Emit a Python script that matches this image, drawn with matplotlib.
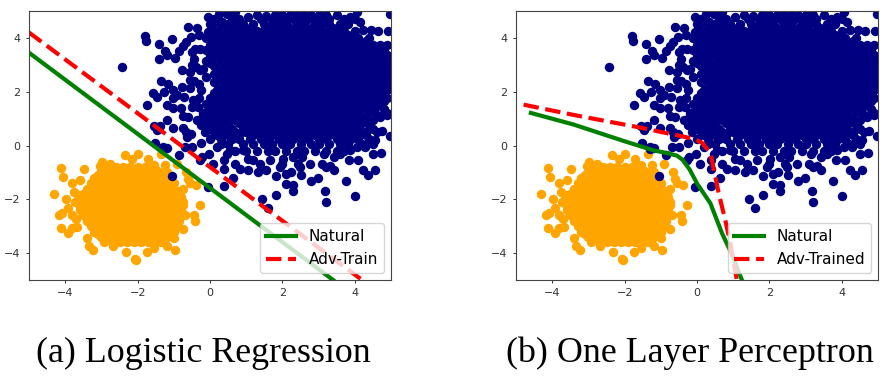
import matplotlib
matplotlib.use('Agg')
import matplotlib.pyplot as plt

# scatter points, sparse ones as x/y pairs
navy_edge = [
    (-2.42, 2.91), (-1.80, 4.06), (-1.77, 3.89), (-1.41, 3.78), (-1.05, 3.96), (-0.62, 4.41), (-0.37, 4.38),
    (-0.31, 4.12), (-0.53, 4.04), (-0.66, 3.85), (-0.74, 3.69), (-0.85, 3.51), (-1.24, 3.51), (-1.20, 3.38),
    (-1.42, 3.23), (-0.97, 3.27), (-0.76, 2.80), (-1.36, 2.40), (-1.15, 2.28), (-0.78, 2.19), (-1.58, 1.96),
    (-1.47, 1.81), (-1.27, 1.98), (-1.01, 2.06), (-1.75, 1.51), (-1.20, 1.51), (-1.03, 1.41), (-0.80, 1.38),
    (-1.01, 1.75), (-0.92, 1.88), (-0.72, 1.81), (-0.55, 2.12), (-0.46, 1.69), (-0.51, 1.42), (-0.32, 1.44),
    (-0.74, 1.10), (-0.60, 1.07), (-1.18, 0.93), (-1.38, 0.73), (-1.55, 0.73), (-1.47, 0.56), (-1.01, 0.64),
    (-0.74, 0.64), (-0.66, 0.52), (-0.53, 0.42), (-0.64, 0.31), (-0.24, 0.11), (-1.52, 0.09), (-1.29, -0.04),
    (-1.20, -0.10), (-0.55, 2.43), (-0.45, 2.38), (-0.55, 2.75), (-0.50, 3.00), (-0.45, 3.20), (-0.40, 2.90),
    (-0.28, 2.80), (-0.18, 2.86), (-0.41, 3.57), (-0.28, 3.60), (-0.50, 3.48), (-0.05, 4.78), (0.25, 4.88),
    (0.46, 4.90), (0.69, 4.95), (0.32, 4.59), (1.06, 4.78), (1.29, 4.84), (1.56, 4.80), (-0.05, 4.22),
    (0.05, 4.47), (3.86, 4.78), (4.05, 4.96), (4.14, 4.60), (4.97, 4.90), (4.23, 4.28), (4.46, 4.28),
    (-0.30, 2.30), (-0.25, 2.05), (-0.30, 1.75), (-0.20, 1.20), (-0.35, 0.95), (-0.25, 0.75), (-0.15, 0.50),
    (-1.06, -1.13), (-0.05, -1.56), (0.40, -1.50), (0.64, -1.19), (1.43, -2.00), (1.61, -2.34), (1.81, -1.85),
    (2.09, -1.44), (2.30, -1.48), (2.30, -1.70), (2.78, -1.33), (2.99, -1.19), (3.17, -1.69), (3.20, -2.09),
    (3.75, -1.33), (4.00, -1.87), (4.23, -0.92), (4.37, -1.08), (4.57, -0.92), (3.43, -0.92), (2.51, -1.08),
    (2.25, -1.00), (2.09, -1.07), (1.92, -0.80), (1.82, -1.13), (1.33, -1.00), (1.56, -0.92), (1.06, -0.90),
    (0.83, -0.86), (0.69, -0.68), (0.39, -0.86), (0.39, -0.55), (0.09, -0.68), (-0.28, -0.55), (-0.23, -0.41),
    (-0.02, -0.33), (-0.87, -0.37), (-1.29, -0.12), (-0.50, -0.06), (-0.69, -0.06), (2.77, -0.68), (2.48, -0.80),
    (2.43, -0.68), (3.10, -0.68), (3.20, -0.80), (3.31, -0.78), (3.83, -0.53), (4.08, -0.53), (4.72, -0.28),
    (4.50, -0.31), (4.28, -0.06), (2.02, -0.49), (1.98, -0.68), (1.66, -0.55), (1.38, -0.68), (1.20, -0.55),
    (1.06, -0.49), (0.55, -0.18), (0.46, -0.31), (0.18, -0.06), (0.92, -0.18), (2.30, -0.43), (2.53, -0.43),
    (3.14, -0.31), (3.42, -0.43), (3.60, -0.31), (3.88, -0.18), (4.06, -0.06), (4.97, 3.20), (4.90, 1.20),
    (4.97, 0.35), (4.75, 0.55), (4.55, 0.20), (4.30, 0.50),
]
navy_rows_y = [4.85, 4.7, 4.5, 4.25, 4.0, 3.75, 3.55, 3.35, 3.15, 2.95, 2.75, 2.55, 2.35, 2.15, 1.95, 1.75,
               1.55, 1.35, 1.15, 0.95, 0.75, 0.5, 0.25, 0.05, -0.2]
navy_rows_x = [
    [1.8, 2.0, 2.2, 2.4, 2.6, 2.8, 3.0, 3.2, 3.5],
    [0.1, 0.6, 0.8, 1.4, 1.7, 1.9, 2.1, 2.3, 2.5, 2.7, 2.9, 3.1, 3.3, 3.7, 4.0],
    [0.0, 0.3, 0.5, 0.7, 0.9, 1.2, 1.5, 1.7, 1.9, 2.1, 2.4, 2.6, 2.9, 3.1, 3.3, 3.6, 3.8],
    [0.1, 0.4, 0.6, 0.8, 1.0, 1.3, 1.5, 1.7, 1.9, 2.1, 2.3, 2.5, 2.7, 2.9, 3.1, 3.3, 3.5, 3.7, 4.0, 4.65, 4.92],
    [-0.1, 0.1, 0.3, 0.5, 0.7, 0.9, 1.1, 1.3, 1.5, 1.7, 1.9, 2.1, 2.3, 2.5, 2.7, 2.9, 3.1, 3.3, 3.5, 3.7, 3.9, 4.1, 4.4],
    [0.0, 0.2, 0.4, 0.8, 1.0, 1.2, 1.4, 1.6, 1.8, 2.0, 2.2, 2.4, 2.6, 2.8, 3.0, 3.2, 3.4, 3.6, 3.8, 4.0, 4.2, 4.5, 4.7, 4.88],
    [-0.1, 0.1, 0.3, 0.6, 0.9, 1.1, 1.3, 1.5, 1.7, 1.9, 2.1, 2.3, 2.5, 2.7, 2.9, 3.1, 3.3, 3.5, 3.7, 3.9, 4.1, 4.3, 4.6, 4.8],
    [0.0, 0.2, 0.5, 0.7, 1.0, 1.2, 1.4, 1.6, 1.8, 2.0, 2.2, 2.4, 2.6, 2.8, 3.0, 3.2, 3.4, 3.6, 3.8, 4.0, 4.2, 4.4, 4.7, 4.9],
    [-0.1, 0.3, 0.6, 0.8, 1.1, 1.3, 1.5, 1.7, 1.9, 2.1, 2.3, 2.5, 2.7, 2.9, 3.1, 3.3, 3.5, 3.7, 3.9, 4.1, 4.3, 4.5, 4.7, 4.95],
    [0.1, 0.4, 0.7, 0.9, 1.2, 1.4, 1.6, 1.8, 2.0, 2.2, 2.4, 2.6, 2.8, 3.0, 3.2, 3.4, 3.6, 3.8, 4.0, 4.2, 4.4, 4.6, 4.8],
    [0.2, 0.5, 0.7, 1.0, 1.2, 1.4, 1.6, 1.8, 2.0, 2.2, 2.4, 2.6, 2.8, 3.0, 3.2, 3.4, 3.6, 3.8, 4.0, 4.2, 4.4, 4.7, 4.95],
    [-0.1, 0.3, 0.6, 0.8, 1.1, 1.3, 1.5, 1.7, 1.9, 2.1, 2.3, 2.5, 2.7, 2.9, 3.1, 3.3, 3.5, 3.7, 3.9, 4.1, 4.3, 4.5, 4.8],
    [0.1, 0.4, 0.6, 0.9, 1.1, 1.4, 1.6, 1.8, 2.0, 2.2, 2.4, 2.6, 2.8, 3.0, 3.2, 3.4, 3.6, 3.8, 4.0, 4.2, 4.5, 4.7, 4.9],
    [0.3, 0.5, 0.7, 1.0, 1.2, 1.5, 1.7, 1.9, 2.1, 2.3, 2.5, 2.7, 2.9, 3.1, 3.3, 3.5, 3.7, 3.9, 4.1, 4.4, 4.6, 4.95],
    [0.1, 0.4, 0.6, 0.8, 1.1, 1.3, 1.6, 1.8, 2.0, 2.2, 2.4, 2.6, 2.8, 3.0, 3.2, 3.4, 3.6, 3.8, 4.0, 4.2, 4.5, 4.8],
    [0.0, 0.3, 0.5, 0.7, 0.9, 1.2, 1.4, 1.7, 1.9, 2.1, 2.3, 2.5, 2.7, 2.9, 3.1, 3.3, 3.5, 3.7, 3.9, 4.1, 4.3, 4.6, 4.9],
    [-0.1, 0.2, 0.4, 0.6, 0.8, 1.0, 1.3, 1.5, 1.7, 1.9, 2.1, 2.3, 2.5, 2.7, 2.9, 3.1, 3.3, 3.5, 3.7, 3.9, 4.2, 4.4, 4.7],
    [0.0, 0.3, 0.5, 0.7, 0.9, 1.1, 1.4, 1.6, 1.8, 2.0, 2.2, 2.4, 2.6, 2.8, 3.0, 3.2, 3.4, 3.6, 3.8, 4.0, 4.3, 4.5, 4.8],
    [-0.2, 0.1, 0.3, 0.6, 0.8, 1.0, 1.2, 1.5, 1.7, 1.9, 2.1, 2.3, 2.5, 2.7, 2.9, 3.1, 3.3, 3.5, 3.7, 3.9, 4.1, 4.6, 4.9],
    [-0.1, 0.2, 0.4, 0.7, 0.9, 1.1, 1.3, 1.6, 1.8, 2.0, 2.2, 2.4, 2.6, 2.8, 3.0, 3.2, 3.4, 3.6, 3.8, 4.0, 4.3, 4.5],
    [-0.2, 0.0, 0.3, 0.5, 0.9, 1.2, 1.4, 1.7, 1.9, 2.1, 2.3, 2.5, 2.7, 2.9, 3.1, 3.3, 3.5, 3.7, 3.9, 4.1, 4.4],
    [0.1, 0.4, 0.7, 1.0, 1.3, 1.5, 1.8, 2.0, 2.2, 2.4, 2.6, 2.8, 3.0, 3.2, 3.4, 3.6, 3.8, 4.0, 4.2, 4.6],
    [0.0, 0.3, 0.6, 0.8, 1.1, 1.4, 1.6, 1.9, 2.1, 2.3, 2.5, 2.7, 3.0, 3.2, 3.5, 3.7, 3.9, 4.1, 4.4],
    [0.3, 0.5, 0.9, 1.2, 1.5, 1.7, 2.0, 2.2, 2.5, 2.8, 3.0, 3.3, 3.6, 3.8, 4.2, 4.5],
    [0.7, 1.0, 1.3, 1.6, 1.8, 2.1, 2.4, 2.6, 2.9, 3.2, 3.5, 3.7],
]
# second layer where the navy cloud is solid
navy_fill_y = [4.38, 4.12, 3.88, 3.65, 3.45, 3.25, 3.05, 2.85, 2.65, 2.45, 2.25, 2.05, 1.85, 1.65, 1.45, 1.25, 1.05, 0.85, 0.62, 0.38]
navy_fill_x = [
    [0.3, 0.9, 1.1, 1.6, 1.8, 2.0, 2.2, 2.5, 2.8, 3.0, 3.4],
    [0.2, 0.5, 0.7, 0.9, 1.2, 1.4, 1.6, 1.8, 2.0, 2.2, 2.4, 2.6, 2.8, 3.0, 3.2, 3.4, 3.6, 3.8],
    [0.1, 0.3, 0.6, 0.8, 1.0, 1.2, 1.4, 1.6, 1.8, 2.0, 2.2, 2.4, 2.6, 2.8, 3.0, 3.2, 3.4, 3.6, 3.8, 4.1, 4.3],
    [0.1, 0.5, 0.7, 0.9, 1.1, 1.3, 1.5, 1.7, 1.9, 2.1, 2.3, 2.5, 2.7, 2.9, 3.1, 3.3, 3.5, 3.7, 3.9, 4.1, 4.4, 4.6],
    [0.0, 0.4, 0.6, 0.8, 1.0, 1.2, 1.4, 1.6, 1.8, 2.0, 2.2, 2.4, 2.6, 2.8, 3.0, 3.2, 3.4, 3.6, 3.8, 4.0, 4.2, 4.5, 4.8],
    [0.1, 0.3, 0.7, 0.9, 1.1, 1.3, 1.5, 1.7, 1.9, 2.1, 2.3, 2.5, 2.7, 2.9, 3.1, 3.3, 3.5, 3.7, 3.9, 4.1, 4.3, 4.6, 4.8],
    [0.0, 0.5, 0.8, 1.0, 1.2, 1.4, 1.6, 1.8, 2.0, 2.2, 2.4, 2.6, 2.8, 3.0, 3.2, 3.4, 3.6, 3.8, 4.0, 4.2, 4.4, 4.7],
    [0.3, 0.6, 0.8, 1.0, 1.3, 1.5, 1.7, 1.9, 2.1, 2.3, 2.5, 2.7, 2.9, 3.1, 3.3, 3.5, 3.7, 3.9, 4.1, 4.3, 4.5, 4.9],
    [0.1, 0.4, 0.6, 0.9, 1.1, 1.3, 1.5, 1.7, 1.9, 2.1, 2.3, 2.5, 2.7, 2.9, 3.1, 3.3, 3.5, 3.7, 3.9, 4.1, 4.3, 4.6, 4.8],
    [0.2, 0.5, 0.7, 1.0, 1.2, 1.4, 1.6, 1.8, 2.0, 2.2, 2.4, 2.6, 2.8, 3.0, 3.2, 3.4, 3.6, 3.8, 4.0, 4.2, 4.4, 4.6, 4.9],
    [0.4, 0.6, 0.8, 1.0, 1.3, 1.5, 1.7, 1.9, 2.1, 2.3, 2.5, 2.7, 2.9, 3.1, 3.3, 3.5, 3.7, 3.9, 4.1, 4.3, 4.6, 4.8],
    [0.2, 0.5, 0.7, 0.9, 1.1, 1.4, 1.6, 1.8, 2.0, 2.2, 2.4, 2.6, 2.8, 3.0, 3.2, 3.4, 3.6, 3.8, 4.0, 4.3, 4.7, 4.9],
    [0.2, 0.4, 0.6, 0.8, 1.0, 1.2, 1.5, 1.7, 1.9, 2.1, 2.3, 2.5, 2.7, 2.9, 3.1, 3.3, 3.5, 3.7, 3.9, 4.1, 4.4, 4.7],
    [0.1, 0.3, 0.5, 0.7, 0.9, 1.1, 1.3, 1.6, 1.8, 2.0, 2.2, 2.4, 2.6, 2.8, 3.0, 3.2, 3.4, 3.6, 3.8, 4.0, 4.2, 4.5, 4.8],
    [0.1, 0.4, 0.6, 0.8, 1.0, 1.2, 1.4, 1.6, 1.8, 2.0, 2.2, 2.4, 2.6, 2.8, 3.0, 3.2, 3.4, 3.6, 3.8, 4.0, 4.2, 4.4, 4.6],
    [-0.1, 0.2, 0.4, 0.6, 0.8, 1.0, 1.2, 1.4, 1.7, 1.9, 2.1, 2.3, 2.5, 2.7, 2.9, 3.1, 3.3, 3.5, 3.7, 3.9, 4.1, 4.4],
    [0.0, 0.3, 0.5, 0.7, 0.9, 1.1, 1.4, 1.6, 1.8, 2.0, 2.2, 2.4, 2.6, 2.8, 3.0, 3.2, 3.4, 3.6, 3.8, 4.0, 4.2, 4.7],
    [0.1, 0.4, 0.8, 1.0, 1.2, 1.5, 1.7, 1.9, 2.1, 2.3, 2.5, 2.7, 2.9, 3.1, 3.3, 3.5, 3.7, 3.9, 4.2],
    [-0.1, 0.2, 0.6, 0.9, 1.1, 1.4, 1.6, 1.9, 2.1, 2.3, 2.5, 2.7, 2.9, 3.1, 3.3, 3.5, 3.7, 3.9, 4.1, 4.5],
    [0.2, 0.5, 0.8, 1.2, 1.5, 1.7, 1.9, 2.1, 2.4, 2.6, 2.9, 3.1, 3.3, 3.7, 3.9, 4.3],
]

orange_edge = [
    (-4.31, -1.81), (-4.11, -0.85), (-4.05, -1.17), (-3.49, -0.87), (-3.82, -1.38), (-3.98, -2.00), (-3.91, -2.34),
    (-4.17, -2.58), (-4.09, -2.50), (-4.11, -3.07), (-3.91, -3.26), (-3.82, -3.07), (-3.68, -3.04), (-3.82, -2.58),
    (-3.77, -1.72), (-3.72, -2.09), (-3.59, -1.29), (-2.99, -0.62), (-3.04, -0.77), (-2.76, -0.70), (-2.34, -0.34),
    (-2.00, -0.33), (-2.16, -0.49), (-1.70, -0.52), (-1.36, -0.33), (-1.24, -0.74), (-1.56, -0.74), (-0.92, -0.68),
    (-0.66, -0.98), (-0.60, -1.23), (-0.39, -1.48), (-0.55, -1.41), (-0.74, -1.60), (-0.29, -2.23), (-0.43, -2.58),
    (-0.41, -2.80), (-0.69, -2.58), (-0.75, -3.11), (-0.98, -3.87), (-2.04, -4.24), (-2.08, -4.22), (-2.32, -3.96),
    (-1.75, -3.96), (-1.56, -3.81), (-1.20, -3.75), (-2.67, -3.75), (-3.22, -3.87), (-3.33, -3.75), (-2.93, -3.59),
    (-3.70, -2.75), (-3.65, -1.85), (-3.40, -3.45), (-1.00, -3.45), (-1.35, -3.60),
]
orange_rows_y = [-0.8, -0.9, -1.0, -1.1, -1.2, -1.3, -1.4, -1.5, -1.6, -1.7, -1.8, -1.9, -2.0, -2.1, -2.2, -2.3, -2.4,
                 -2.5, -2.6, -2.7, -2.8, -2.9, -3.0, -3.1, -3.2, -3.3, -3.4, -3.5, -3.6]
orange_rows_x = [
    [-2.9, -2.6, -2.4, -2.2, -2.0, -1.8, -1.6],
    [-2.7, -2.5, -2.3, -2.1, -1.9, -1.7, -1.5],
    [-3.0, -2.8, -2.6, -2.4, -2.2, -2.0, -1.8, -1.6, -1.4, -1.2],
    [-3.1, -2.9, -2.7, -2.5, -2.3, -2.1, -1.9, -1.7, -1.5, -1.3],
    [-3.2, -3.0, -2.8, -2.6, -2.4, -2.2, -2.0, -1.8, -1.6, -1.3, -1.1],
    [-3.1, -2.9, -2.7, -2.5, -2.3, -2.1, -1.9, -1.7, -1.5, -1.2],
    [-3.3, -3.1, -2.9, -2.7, -2.5, -2.3, -2.1, -1.9, -1.7, -1.5, -1.3, -1.0],
    [-3.2, -3.0, -2.8, -2.6, -2.4, -2.2, -2.0, -1.8, -1.6, -1.4, -1.1],
    [-3.4, -3.2, -3.0, -2.8, -2.6, -2.4, -2.2, -2.0, -1.8, -1.6, -1.4, -1.2, -1.0],
    [-3.3, -3.1, -2.9, -2.7, -2.5, -2.3, -2.1, -1.9, -1.7, -1.5, -1.3, -1.1, -0.9],
    [-3.5, -3.3, -3.1, -2.9, -2.7, -2.5, -2.3, -2.1, -1.9, -1.7, -1.5, -1.3, -1.1, -0.9],
    [-3.4, -3.2, -3.0, -2.8, -2.6, -2.4, -2.2, -2.0, -1.8, -1.6, -1.4, -1.2, -1.0, -0.8],
    [-3.6, -3.4, -3.2, -3.0, -2.8, -2.6, -2.4, -2.2, -2.0, -1.8, -1.6, -1.4, -1.2, -1.0, -0.8],
    [-3.5, -3.3, -3.1, -2.9, -2.7, -2.5, -2.3, -2.1, -1.9, -1.7, -1.5, -1.3, -1.1, -0.9, -0.75],
    [-3.5, -3.3, -3.1, -2.9, -2.7, -2.5, -2.3, -2.1, -1.9, -1.7, -1.5, -1.3, -1.1, -0.9, -0.75],
    [-3.6, -3.4, -3.2, -3.0, -2.8, -2.6, -2.4, -2.2, -2.0, -1.8, -1.6, -1.4, -1.2, -1.0, -0.8],
    [-3.6, -3.4, -3.2, -3.0, -2.8, -2.6, -2.4, -2.2, -2.0, -1.8, -1.6, -1.4, -1.2, -1.0, -0.8],
    [-3.5, -3.3, -3.1, -2.9, -2.7, -2.5, -2.3, -2.1, -1.9, -1.7, -1.5, -1.3, -1.1, -0.9],
    [-3.5, -3.3, -3.1, -2.9, -2.7, -2.5, -2.3, -2.1, -1.9, -1.7, -1.5, -1.3, -1.1, -0.9],
    [-3.4, -3.2, -3.0, -2.8, -2.6, -2.4, -2.2, -2.0, -1.8, -1.6, -1.4, -1.2, -1.0, -0.85],
    [-3.4, -3.2, -3.0, -2.8, -2.6, -2.4, -2.2, -2.0, -1.8, -1.6, -1.4, -1.2, -1.0, -0.85],
    [-3.3, -3.1, -2.9, -2.7, -2.5, -2.3, -2.1, -1.9, -1.7, -1.5, -1.3, -1.1, -0.9],
    [-3.3, -3.1, -2.9, -2.7, -2.5, -2.3, -2.1, -1.9, -1.7, -1.5, -1.3, -1.1, -0.9],
    [-3.2, -3.0, -2.8, -2.6, -2.4, -2.2, -2.0, -1.8, -1.6, -1.4, -1.2, -1.0],
    [-3.2, -3.0, -2.8, -2.6, -2.4, -2.2, -2.0, -1.8, -1.6, -1.4, -1.2, -1.0],
    [-3.1, -2.9, -2.7, -2.5, -2.3, -2.1, -1.9, -1.7, -1.5, -1.3, -1.1],
    [-3.0, -2.8, -2.6, -2.4, -2.2, -2.0, -1.8, -1.6, -1.4, -1.2],
    [-2.9, -2.7, -2.5, -2.3, -2.1, -1.9, -1.7, -1.5, -1.3],
    [-2.7, -2.5, -2.3, -2.1, -1.9, -1.7, -1.5],
]

lr_natural_x = [-5, 3.4]
lr_natural_y = [3.45, -5]
lr_adv_x = [-5, 4.2]
lr_adv_y = [4.2, -5]
mlp_natural_x = [-4.59, -3.41, -2.03, -1.2, -0.8, -0.55, -0.4, -0.2, 0.0, 0.37, 0.69, 0.97, 1.24]
mlp_natural_y = [1.21, 0.78, 0.17, -0.18, -0.29, -0.38, -0.53, -0.9, -1.41, -2.15, -3.26, -4.06, -5.0]
mlp_adv_x = [-4.79, -4.51, -3.31, -1.66, -0.09, 0.14, 0.37, 0.46, 0.6, 0.78, 0.92, 1.1]
mlp_adv_y = [1.52, 1.44, 1.11, 0.69, 0.25, 0.1, -0.28, -0.86, -1.78, -2.77, -3.63, -5.0]

ticks = [-4, -2, 0, 2, 4]

navy_x = [p[0] for p in navy_edge]
navy_y = [p[1] for p in navy_edge]
for y, row in zip(navy_rows_y + navy_fill_y, navy_rows_x + navy_fill_x):
    navy_x += row
    navy_y += [y] * len(row)
orange_x = [p[0] for p in orange_edge]
orange_y = [p[1] for p in orange_edge]
for y, row in zip(orange_rows_y, orange_rows_x):
    orange_x += row
    orange_y += [y] * len(row)

W, H = 889, 377
fig = plt.figure(figsize=(W / 100, H / 100), dpi=100)


def panel(left, right, nat_x, nat_y, adv_x, adv_y, adv_label):
    ax = fig.add_axes([left / W, 1 - 280 / H, (right - left) / W, 269 / H])
    ax.scatter(orange_x, orange_y, s=46, color='orange', linewidths=0)
    ax.scatter(navy_x, navy_y, s=46, color='navy', linewidths=0)
    ax.plot(nat_x, nat_y, color='green', lw=3, label='Natural')
    ax.plot(adv_x, adv_y, color='red', lw=3, ls='--', label=adv_label)
    ax.set_xlim(-5, 5)
    ax.set_ylim(-5, 5)
    ax.set_xticks(ticks)
    ax.set_yticks(ticks)
    ax.tick_params(labelsize=8, length=2.5, width=0.7, colors='#333333')
    for s in ax.spines.values():
        s.set_color('#444444')
    ax.legend(loc='lower right', fontsize=11, borderaxespad=0.45)
    return ax


panel(29, 391, lr_natural_x, lr_natural_y, lr_adv_x, lr_adv_y, 'Adv-Train')
panel(516, 878, mlp_natural_x, mlp_natural_y, mlp_adv_x, mlp_adv_y, 'Adv-Trained')

fig.text(203 / W, 1 - 362 / H, '(a) Logistic Regression', family='Liberation Serif', fontsize=25.8, ha='center', va='baseline')
fig.text(690 / W, 1 - 362 / H, '(b) One Layer Perceptron', family='Liberation Serif', fontsize=25.8, ha='center', va='baseline')

fig.savefig('out.png', dpi=100)
